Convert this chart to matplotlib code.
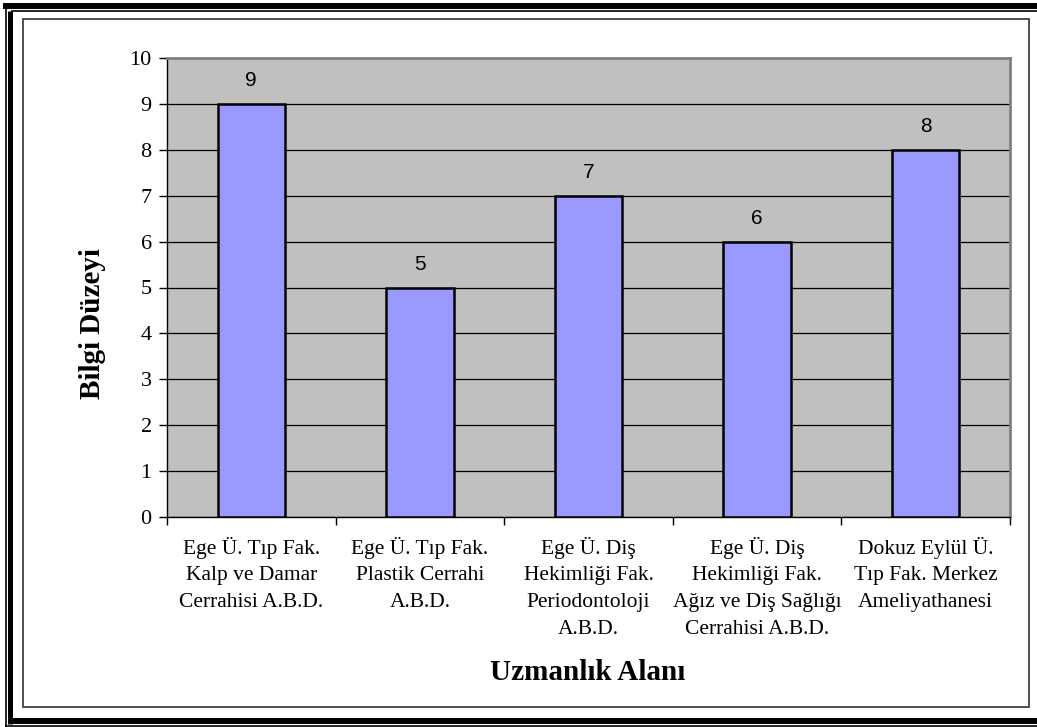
import matplotlib
matplotlib.use("Agg")
import matplotlib.pyplot as plt
from matplotlib.patches import Rectangle
from matplotlib.lines import Line2D

categories = [
    "Ege Ü. Tıp Fak.\nKalp ve Damar\nCerrahisi A.B.D.",
    "Ege Ü. Tıp Fak.\nPlastik Cerrahi\nA.B.D.",
    "Ege Ü. Diş\nHekimliği Fak.\nPeriodontoloji\nA.B.D.",
    "Ege Ü. Diş\nHekimliği Fak.\nAğız ve Diş Sağlığı\nCerrahisi A.B.D.",
    "Dokuz Eylül Ü.\nTıp Fak. Merkez\nAmeliyathanesi",
]
values = [9, 5, 7, 6, 8]
yticks = list(range(0, 11))
ylabel = "Bilgi Düzeyi"
xlabel = "Uzmanlık Alanı"

W, H = 1037, 727
fig = plt.figure(figsize=(W / 100, H / 100), dpi=100)
fig.patch.set_facecolor("white")

def fx(x):
    return x / W

def fy(y):
    return 1 - y / H

# page borders
def hline(y, x0, x1, lw):
    fig.add_artist(Line2D([fx(x0), fx(x1)], [fy(y), fy(y)], color="black", lw=lw, transform=fig.transFigure, solid_capstyle="butt"))

def vline(x, y0, y1, lw):
    fig.add_artist(Line2D([fx(x), fx(x)], [fy(y0), fy(y1)], color="black", lw=lw, transform=fig.transFigure, solid_capstyle="butt"))

hline(5.5, 3, 1037, 4.3)
hline(11, 11, 1037, 1.2)
vline(5.5, 3, 727, 1.2)
vline(10, 11, 724, 3.6)
hline(720.5, 8, 1037, 4.3)
hline(725.8, 5, 1037, 1.2)

# chart area border
fig.add_artist(Rectangle((fx(23), fy(707)), fx(1029 - 23), (707 - 19) / H, fill=False,
                         edgecolor="#404040", lw=1.3, transform=fig.transFigure))

ax = fig.add_axes([fx(167), fy(517), fx(1010 - 167), (517 - 58) / H])
ax.set_facecolor("#C0C0C0")
x = list(range(len(categories)))
ax.bar(x, values, width=0.4, color="#9999FF", edgecolor="black", linewidth=1.8, zorder=3)
ax.set_xlim(-0.5, len(categories) - 0.5)
ax.set_ylim(0, 10)
ax.set_yticks(yticks)
ax.yaxis.grid(True, color="black", lw=0.9, zorder=1)
ax.set_axisbelow(True)

for xi, v in zip(x, values):
    ax.annotate(str(v), (xi, v), xytext=(0, 16.5), textcoords="offset points",
                ha="center", va="center", fontsize=15, family="Liberation Sans")

ax.set_xticks([i - 0.5 for i in range(len(categories) + 1)])
ax.set_xticklabels([])
ax.set_xticks(x, minor=True)
ax.set_xticklabels(categories, minor=True, fontsize=15.5, family="Liberation Serif", linespacing=1.56, va="top")
ax.tick_params(axis="x", which="major", length=6, width=1, direction="out", color="black")
ax.tick_params(axis="x", which="minor", length=0, pad=14)
ax.tick_params(axis="y", length=6, width=1, direction="out", pad=5, labelsize=16)
for lab in ax.get_yticklabels():
    lab.set_family("Liberation Serif")

for s in ["top", "right"]:
    ax.spines[s].set_color("#808080")
    ax.spines[s].set_linewidth(2)
for s in ["left", "bottom"]:
    ax.spines[s].set_color("black")
    ax.spines[s].set_linewidth(1)

fig.text(fx(588), fy(672), xlabel, ha="center", va="center", fontsize=21,
         family="Liberation Serif", weight="bold")
fig.text(fx(93), fy(324), ylabel, ha="center", va="center", fontsize=21,
         family="Liberation Serif", weight="bold", rotation=90)

fig.savefig("out.png", dpi=100)
